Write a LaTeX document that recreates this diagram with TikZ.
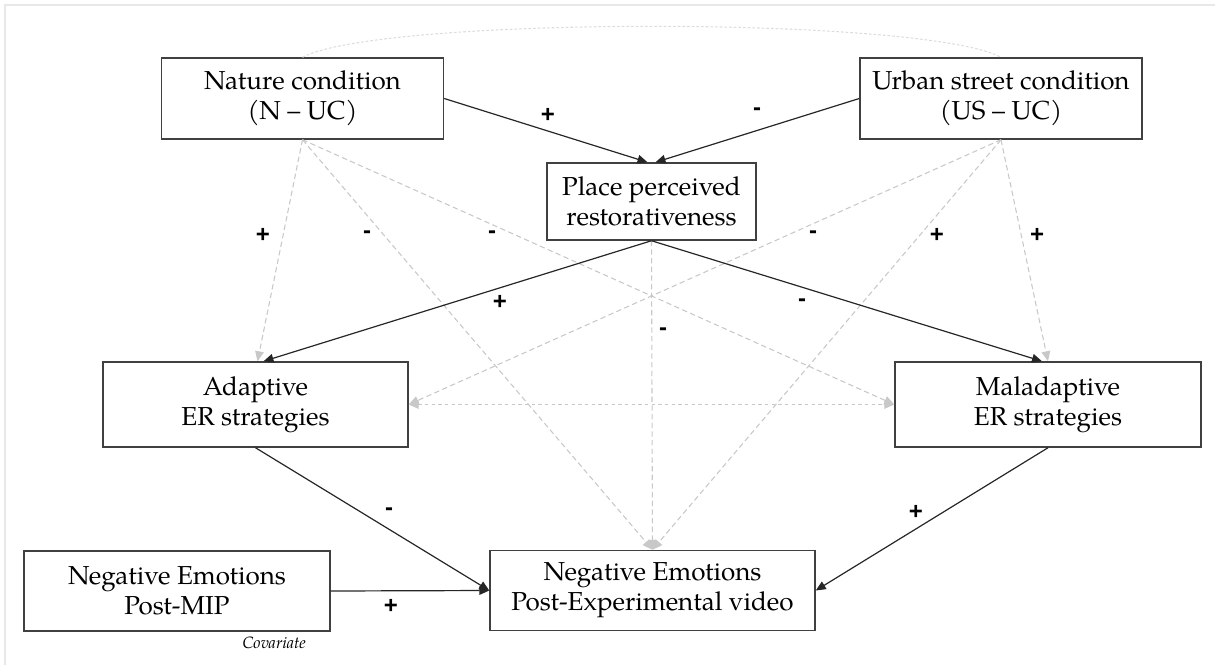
\documentclass[tikz,border=0pt]{standalone}
\usepackage{fontspec}
\setmainfont{TeX Gyre Pagella}
\newfontfamily\labelfont{Liberation Sans}
\usetikzlibrary{arrows.meta}
\definecolor{boxline}{HTML}{404040}
\definecolor{dashgray}{HTML}{C8C8C8}
\definecolor{curvegray}{HTML}{DCDCDC}
\definecolor{framegray}{HTML}{E8E8E8}
\tikzset{
  box/.style n args={2}{draw=boxline, line width=1.1pt, minimum width=#1, minimum height=#2,
    inner sep=0pt, align=center, font=\fontsize{19.5}{22.5}\selectfont},
  solidarrow/.style={draw=black!85, line width=0.9pt, -{Triangle[length=7.5pt,width=6.5pt]}},
  grayarrow/.style={draw=dashgray, line width=0.8pt, dash pattern=on 4pt off 2.5pt,
    -{Triangle[length=7.5pt,width=6.5pt]}},
  graybiarrow/.style={draw=dashgray, line width=0.8pt, dash pattern=on 2.5pt off 2.5pt,
    {Triangle[length=7.5pt,width=6.5pt]}-{Triangle[length=7.5pt,width=6.5pt]}},
  lbl/.style={font=\labelfont\bfseries\fontsize{18}{20}\selectfont, inner sep=0pt},
}
\begin{document}
\begin{tikzpicture}[x=0.75pt,y=-0.75pt]
\useasboundingbox (0,0) rectangle (1215,665);
% frame
\draw[framegray, line width=1.5pt] (5,665) -- (5,5) -- (1215,5);

% nodes
\node[box={211.5pt}{60.75pt}] (N) at (302.5,98.5) {Nature condition\\(N – UC)};
\node[box={211.5pt}{60.75pt}] (U) at (1001,98.5) {Urban street condition\\(US – UC)};
\node[box={156.75pt}{57.75pt}] (P) at (651.5,201.5) {Place perceived\\restorativeness};
\node[box={228.75pt}{63.75pt}] (A) at (255.5,404.5) {Adaptive\\ER strategies};
\node[box={229.5pt}{63.75pt}] (M) at (1048,404.5) {Maladaptive\\ER strategies};
\node[box={243.75pt}{60pt}] (O) at (652.5,590.5) {Negative Emotions\\Post-Experimental video};
\node[box={229.5pt}{60pt}] (C) at (177,591) {Negative Emotions\\Post-MIP};
\node[font=\itshape\fontsize{12.3}{14}\selectfont, anchor=east, inner sep=0pt] (cov) at (306,643) {Covariate};

% correlation curve
\draw[curvegray, line width=0.8pt, dash pattern=on 2pt off 1.5pt]
  (N.north) .. controls (380,16) and (924,16) .. (U.north);

% dashed gray paths
\draw[grayarrow] (N.south) -- ([xshift=1.5pt]A.north);
\draw[grayarrow] (N.south) -- (O.north);
\draw[grayarrow] (N.south) -- (M.west);
\draw[grayarrow] (U.south) -- (M.north);
\draw[grayarrow] (U.south) -- (O.north);
\draw[grayarrow] (U.south) -- (A.east);
\draw[grayarrow] (P.south) -- (O.north);
\draw[graybiarrow] (A.east) -- (M.west);

% solid paths
\draw[solidarrow] (N.east) -- ([xshift=-3pt]P.north);
\draw[solidarrow] (U.west) -- ([xshift=3pt]P.north);
\draw[solidarrow] (P.south) -- ([xshift=6pt]A.north);
\draw[solidarrow] (P.south) -- ([xshift=-4.5pt]M.north);
\draw[solidarrow] (A.south) -- (O.west);
\draw[solidarrow] (M.south) -- (O.east);
\draw[solidarrow] (C.east) -- (O.west);

% labels
\node[lbl] (l1) at (548,115) {+};
\node[lbl] (l2) at (757,112) {-};
\node[lbl] (l3) at (263,235) {+};
\node[lbl] (l4) at (367,235) {-};
\node[lbl] (l5) at (492,235) {-};
\node[lbl] (l6) at (500,302) {+};
\node[lbl] (l7) at (813,235) {-};
\node[lbl] (l8) at (937,235) {+};
\node[lbl] (l9) at (1037,235) {+};
\node[lbl] (l10) at (802,303) {-};
\node[lbl] (l11) at (663,332) {-};
\node[lbl] (l12) at (389,512) {-};
\node[lbl] (l13) at (916,512) {+};
\node[lbl] (l14) at (391,606) {+};
\end{tikzpicture}
\end{document}
